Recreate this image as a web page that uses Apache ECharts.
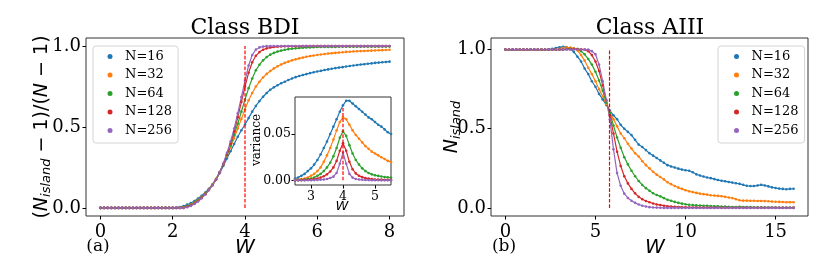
<!DOCTYPE html>
<html>
<head>
<meta charset="utf-8">
<script src="https://cdn.jsdelivr.net/npm/echarts@6/dist/echarts.min.js"></script>
<style>html,body{margin:0;padding:0;background:#fff;}#c{width:830px;height:277px;}</style>
</head>
<body>
<div id="c"></div>
<script>
// ---------- data ----------
const sizeNames = ['N=16', 'N=32', 'N=64', 'N=128', 'N=256'];
const colors = ['#1f77b4', '#ff7f0e', '#2ca02c', '#d62728', '#9467bd'];

// Class BDI, W = 0.0 ... 8.0 (step 0.1)
const bdi16 = [
 0,0,0,0,0,0,0,0,0,0,
 0,0,0,0,0,0,0,0,0,0,
 0,0.002,0.006,0.012,0.02,0.03,0.043,0.058,0.075,0.095,
 0.118,0.145,0.178,0.215,0.26,0.305,0.35,0.395,0.44,0.48,
 0.515,0.555,0.595,0.63,0.66,0.687,0.71,0.73,0.745,0.758,
 0.77,0.78,0.79,0.8,0.808,0.815,0.821,0.827,0.833,0.838,
 0.843,0.847,0.852,0.856,0.86,0.864,0.867,0.87,0.874,0.877,
 0.88,0.883,0.886,0.888,0.891,0.893,0.896,0.898,0.9,0.902,
 0.904];
const bdi32 = [
 0,0,0,0,0,0,0,0,0,0,
 0,0,0,0,0,0,0,0,0,0,
 0,0,0.002,0.006,0.012,0.02,0.033,0.05,0.068,0.09,
 0.115,0.145,0.18,0.22,0.27,0.32,0.375,0.43,0.49,0.55,
 0.61,0.665,0.71,0.75,0.78,0.806,0.828,0.846,0.862,0.875,
 0.886,0.896,0.904,0.912,0.918,0.924,0.929,0.934,0.938,0.942,
 0.945,0.948,0.951,0.954,0.956,0.958,0.96,0.962,0.964,0.965,
 0.967,0.968,0.969,0.97,0.971,0.972,0.973,0.974,0.975,0.976,
 0.977];
const bdi64 = [
 0,0,0,0,0,0,0,0,0,0,
 0,0,0,0,0,0,0,0,0,0,
 0,0,0,0.004,0.01,0.018,0.03,0.046,0.065,0.088,
 0.113,0.143,0.178,0.22,0.27,0.325,0.385,0.45,0.52,0.595,
 0.67,0.74,0.8,0.85,0.885,0.912,0.932,0.947,0.958,0.966,
 0.972,0.977,0.981,0.984,0.986,0.988,0.99,0.991,0.992,0.993,
 0.994,0.995,0.995,0.995,0.995,0.995,0.996,0.996,0.996,0.996,
 0.996,0.996,0.996,0.997,0.997,0.997,0.997,0.997,0.997,0.997,
 0.998];
const bdi128 = [
 0,0,0,0,0,0,0,0,0,0,
 0,0,0,0,0,0,0,0,0,0,
 0,0,0,0,0.007,0.015,0.027,0.043,0.062,0.085,
 0.11,0.14,0.175,0.22,0.27,0.33,0.395,0.47,0.56,0.655,
 0.75,0.835,0.9,0.94,0.963,0.977,0.986,0.991,0.994,0.996,
 0.998,0.999,0.999,0.999,0.999,0.999,1,1,1,1,
 1,1,1,1,1,1,1,1,1,1,
 1,1,1,1,1,1,1,1,1,1,
 1];
const bdi256 = [
 0,0,0,0,0,0,0,0,0,0,
 0,0,0,0,0,0,0,0,0,0,
 0,0,0,0,0.004,0.012,0.024,0.04,0.06,0.083,
 0.11,0.14,0.177,0.222,0.275,0.34,0.41,0.49,0.585,0.685,
 0.785,0.88,0.945,0.978,0.992,0.997,1,1,1,1,
 1,1,1,1,1,1,1,1,1,1,
 1,1,1,1,1,1,1,1,1,1,
 1,1,1,1,1,1,1,1,1,1,
 1];

// Class BDI variance (inset), W = 2.5 ... 5.5 (step 0.1)
const var16 = [0.002,0.003,0.005,0.007,0.01,0.013,0.017,0.022,0.028,0.035,0.042,0.05,0.058,0.066,0.074,0.081,0.086,0.086,0.083,0.08,0.077,0.074,0.071,0.068,0.066,0.063,0.06,0.058,0.055,0.052,0.05];
const var32 = [0.0005,0.001,0.0015,0.002,0.003,0.005,0.007,0.01,0.014,0.02,0.027,0.035,0.044,0.054,0.063,0.068,0.066,0.06,0.054,0.049,0.045,0.041,0.037,0.034,0.031,0.029,0.027,0.025,0.023,0.021,0.02];
const var64 = [0,0.0003,0.0005,0.001,0.0015,0.002,0.003,0.005,0.007,0.01,0.014,0.019,0.026,0.035,0.046,0.053,0.048,0.038,0.029,0.022,0.017,0.013,0.01,0.008,0.0065,0.0055,0.0048,0.0042,0.0037,0.0033,0.003];
const var128 = [0,0.0002,0.0003,0.0005,0.0007,0.001,0.0015,0.002,0.003,0.0045,0.0065,0.0095,0.014,0.021,0.032,0.04,0.032,0.02,0.012,0.0075,0.005,0.0035,0.0025,0.002,0.0015,0.001,0.0009,0.0008,0.0007,0.0006,0.0005];
const var256 = [0,0,0,0,0.0001,0.0002,0.0003,0.0005,0.0007,0.001,0.0015,0.0025,0.004,0.008,0.018,0.03,0.018,0.007,0.003,0.0015,0.001,0.0006,0.0004,0.0003,0.0002,0.0001,0.0001,0,0,0,0];

// Class AIII, W = 0 ... 16 (step 0.2)
const aiii16 = [
 1,1,1,1,1,1,1,1,1,1,
 1,1,1.002,1.005,1.01,1.015,1.017,1.015,1.005,0.985,
 0.955,0.925,0.88,0.845,0.8,0.765,0.72,0.685,0.65,0.615,
 0.585,0.56,0.525,0.5,0.48,0.46,0.43,0.4,0.385,0.365,
 0.345,0.33,0.315,0.3,0.285,0.27,0.262,0.255,0.248,0.242,
 0.238,0.235,0.225,0.212,0.205,0.198,0.192,0.188,0.182,0.176,
 0.172,0.168,0.164,0.16,0.156,0.152,0.146,0.14,0.138,0.138,
 0.142,0.146,0.142,0.136,0.13,0.126,0.122,0.12,0.118,0.12,
 0.121];
const aiii32 = [
 1,1,1,1,1,1,1,1,1,1,
 1,1,1,1,1.002,1.005,1.01,1.012,1.012,1.008,
 0.995,0.965,0.93,0.885,0.845,0.8,0.75,0.705,0.655,0.605,
 0.56,0.515,0.47,0.44,0.405,0.375,0.345,0.325,0.295,0.27,
 0.25,0.228,0.21,0.195,0.18,0.162,0.15,0.138,0.128,0.12,
 0.112,0.105,0.1,0.095,0.09,0.087,0.084,0.08,0.078,0.076,
 0.074,0.07,0.066,0.062,0.055,0.048,0.046,0.046,0.045,0.045,
 0.044,0.044,0.043,0.042,0.04,0.039,0.038,0.037,0.036,0.036,
 0.036];
const aiii64 = [
 1,1,1,1,1,1,1,1,1,1,
 1,1,1,1,1,1,1,1.003,1.005,1.005,
 1.003,0.99,0.97,0.94,0.905,0.86,0.805,0.74,0.665,0.6,
 0.52,0.445,0.38,0.32,0.275,0.235,0.2,0.17,0.145,0.125,
 0.108,0.093,0.082,0.073,0.062,0.052,0.045,0.038,0.032,0.027,
 0.023,0.02,0.018,0.016,0.015,0.014,0.013,0.012,0.011,0.01,
 0.009,0.008,0.007,0.006,0.006,0.007,0.006,0.005,0.005,0.004,
 0.004,0.004,0.003,0.003,0.003,0.003,0.002,0.002,0.002,0.002,
 0.002];
const aiii128 = [
 1,1,1,1,1,1,1,1,1,1,
 1,1,1,1,1,1,1,1.002,1.003,1.003,
 1.003,1.002,1,0.99,0.965,0.925,0.865,0.775,0.68,0.585,
 0.47,0.355,0.265,0.2,0.155,0.12,0.092,0.07,0.055,0.044,
 0.036,0.028,0.022,0.018,0.014,0.011,0.009,0.007,0.006,0.005,
 0.004,0.003,0.003,0.003,0.002,0.002,0.002,0.002,0.002,0.001,
 0.001,0.001,0.001,0.001,0.001,0.001,0.001,0.001,0.001,0.001,
 0.001,0.001,0.001,0.001,0.001,0.001,0.001,0.001,0.001,0.001,
 0.001];
const aiii256 = [
 1,1,1,1,1,1,1,1,1,1,
 1,1,1,1,1,1,1,1,1,1,
 1,1,1,1,0.99,0.97,0.905,0.8,0.68,0.56,
 0.37,0.22,0.14,0.09,0.063,0.045,0.032,0.022,0.014,0.009,
 0.005,0.003,0.002,0.001,0,0,0,0,0,0,
 0,0,0,0,0,0,0,0,0,0,
 0,0,0,0,0,0,0,0,0,0,
 0,0,0,0,0,0,0,0,0,0,
 0];

// critical points (red dashed lines)
const critBDI = 4.0;
const critAIII = 5.78;
const critVarTop = 0.078;

// tick values
const bdiXTicks = [0, 2, 4, 6, 8];
const aiiiXTicks = [0, 5, 10, 15];
const yTicks = [0, 0.5, 1.0];
const insetXTicks = [3, 4, 5];
const insetYTicks = [0, 0.05];

// sample grids
const wBDI = Array.from({length: bdi16.length}, (_, i) => i / 10);
const wAIII = Array.from({length: aiii16.length}, (_, i) => i / 5);
const wVar = Array.from({length: var16.length}, (_, i) => (25 + i) / 10);

// ---------- chart ----------
const bdiSets = [bdi16, bdi32, bdi64, bdi128, bdi256];
const aiiiSets = [aiii16, aiii32, aiii64, aiii128, aiii256];
const varSets = [var16, var32, var64, var128, var256];

const SERIF = 'DejaVu Serif';
const SANS = 'DejaVu Sans';

function ax(gi, min, max, ticks, fs, margin, fmt) {
  return {
    type: 'value', gridIndex: gi, min: min, max: max,
    axisLine: {show: false, onZero: false}, splitLine: {show: false},
    axisTick: {show: true, customValues: ticks, length: 3.5, lineStyle: {color: '#000', width: 1}},
    axisLabel: {customValues: ticks, color: '#000', fontFamily: SERIF, fontSize: fs, margin: margin, formatter: fmt}
  };
}

const series = [];
function addLine(name, color, xs, ys, ai, z) {
  series.push({
    name: name, type: 'line', xAxisIndex: ai, yAxisIndex: ai,
    data: xs.map((x, i) => [x, ys[i]]),
    symbol: 'circle', symbolSize: 2.6, showSymbol: true,
    lineStyle: {color: color, width: 1.2},
    itemStyle: {color: color},
    emphasis: {disabled: true}, z: z, animation: false
  });
}
for (let k = 0; k < 5; k++) {
  addLine(sizeNames[k], colors[k], wBDI, bdiSets[k], 0, 2);
  addLine(sizeNames[k], colors[k], wAIII, aiiiSets[k], 1, 2);
  addLine(sizeNames[k], colors[k], wVar, varSets[k], 2, 6);
}
function addDash(id, x, y0, y1, ai, z) {
  series.push({
    id: id, type: 'line', xAxisIndex: ai, yAxisIndex: ai,
    data: [[x, y0], [x, y1]], symbol: 'none',
    color: '#ff0000',
    lineStyle: {color: '#ff0000', width: 1.2, type: [3.7, 1.6], opacity: 1},
    itemStyle: {color: '#ff0000'},
    emphasis: {disabled: true}, z: z, animation: false, silent: true
  });
}
addDash('critL', critBDI, 0, 1, 0, 3);
addDash('critR', critAIII, 0, 1, 1, 3);
addDash('critI', critBDI, 0, critVarTop, 2, 7);

const legendBase = {
  data: sizeNames, orient: 'vertical', top: 46,
  itemWidth: 5, itemHeight: 5, itemGap: 5.5, icon: 'circle',
  formatter: '{t|{name}}',
  textStyle: {fontFamily: SERIF, fontSize: 13, color: '#000',
    rich: {t: {fontFamily: SERIF, fontSize: 13, color: '#000', padding: [0, 0, 0, 7.5]}}},
  borderColor: '#d4d4d4', borderWidth: 1, borderRadius: 3,
  backgroundColor: 'rgba(255,255,255,0.8)', selectedMode: false
};

const yLabelRich = {
  n: {fontFamily: SANS, fontSize: 19, color: '#000'},
  i: {fontFamily: SANS, fontSize: 19, fontStyle: 'italic', color: '#000'},
  s: {fontFamily: SANS, fontSize: 13, fontStyle: 'italic', color: '#000', padding: [9, 0, 0, 0]}
};

const option = {
  backgroundColor: '#fff',
  animation: false,
  grid: [
    {left: 86, top: 38, width: 318, height: 178, show: true, borderColor: '#333', borderWidth: 1, backgroundColor: 'transparent'},
    {left: 491, top: 38, width: 317, height: 178, show: true, borderColor: '#333', borderWidth: 1, backgroundColor: 'transparent'},
    {left: 295, top: 97, width: 96, height: 88, show: true, borderColor: '#333', borderWidth: 1, backgroundColor: '#fff', z: 4}
  ],
  xAxis: [
    ax(0, -0.4, 8.4, bdiXTicks, 18, 7, v => String(v)),
    ax(1, -0.8, 16.8, aiiiXTicks, 18, 7, v => String(v)),
    ax(2, 2.5, 5.5, insetXTicks, 12.5, 5, v => String(v))
  ],
  yAxis: [
    ax(0, -0.05, 1.05, yTicks, 18, 5, v => v.toFixed(1)),
    ax(1, -0.051, 1.073, yTicks, 18, 5, v => v.toFixed(1)),
    ax(2, -0.005, 0.09, insetYTicks, 12.5, 4, v => v.toFixed(2))
  ],
  legend: [
    Object.assign({}, legendBase, {left: 93, padding: [4, 6, 6, 14.5]}),
    Object.assign({}, legendBase, {left: 718, padding: [4, 6, 6, 16]})
  ],
  series: series,
  graphic: [
    {type: 'text', x: 245, y: 28, style: {text: 'Class BDI', fontFamily: SERIF, fontSize: 22, fill: '#000', align: 'center', verticalAlign: 'middle'}},
    {type: 'text', x: 650, y: 28, style: {text: 'Class AIII', fontFamily: SERIF, fontSize: 22, fill: '#000', align: 'center', verticalAlign: 'middle'}},
    {type: 'text', x: 98, y: 247, style: {text: '(a)', fontFamily: SERIF, fontSize: 17, fill: '#000', align: 'center', verticalAlign: 'middle'}},
    {type: 'text', x: 504, y: 247, style: {text: '(b)', fontFamily: SERIF, fontSize: 17, fill: '#000', align: 'center', verticalAlign: 'middle'}},
    {type: 'text', x: 245, y: 248, style: {text: 'W', fontFamily: SANS, fontStyle: 'italic', fontSize: 20, fill: '#000', align: 'center', verticalAlign: 'middle'}},
    {type: 'text', x: 655, y: 248, style: {text: 'W', fontFamily: SANS, fontStyle: 'italic', fontSize: 20, fill: '#000', align: 'center', verticalAlign: 'middle'}},
    {type: 'text', x: 342, y: 207, z: 10, style: {text: 'W', fontFamily: SANS, fontStyle: 'italic', fontSize: 13, fill: '#000', align: 'center', verticalAlign: 'middle'}},
    {type: 'text', x: 257, y: 140, rotation: Math.PI / 2, z: 10, style: {text: 'variance', fontFamily: SERIF, fontSize: 12, fill: '#000', align: 'center', verticalAlign: 'middle'}},
    {type: 'text', x: 42, y: 127, rotation: Math.PI / 2, style: {text: '{n|(}{i|N}{s|island}{n| − 1)/(}{i|N}{n| − 1)}', rich: yLabelRich, align: 'center', verticalAlign: 'middle'}},
    {type: 'text', x: 452, y: 127, rotation: Math.PI / 2, style: {text: '{i|N}{s|island}', rich: yLabelRich, align: 'center', verticalAlign: 'middle'}}
  ]
};

const chart = echarts.init(document.getElementById('c'), null, {renderer: 'canvas'});
chart.setOption(option);
</script>
</body>
</html>
